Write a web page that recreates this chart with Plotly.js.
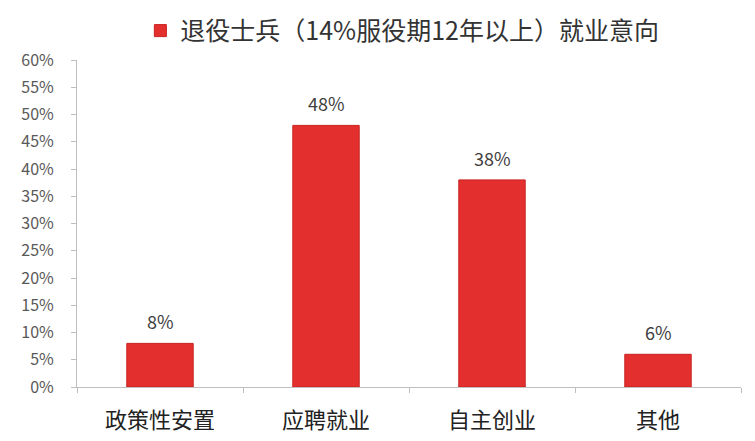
<!DOCTYPE html>
<html>
<head>
<meta charset="utf-8">
<script src="https://cdn.plot.ly/plotly-3.0.1.min.js"></script>
<style>
  html, body { margin: 0; padding: 0; background: #fff; }
  #chart { width: 755px; height: 441px; }
</style>
</head>
<body>
<div id="chart"></div>
<script>
var categories = ['政策性安置', '应聘就业', '自主创业', '其他'];
var shares = [0.08, 0.48, 0.38, 0.06];
var seriesName = '退役士兵（14%服役期12年以上）就业意向';
var yTicks = [0, 0.05, 0.10, 0.15, 0.20, 0.25, 0.30, 0.35, 0.40, 0.45, 0.50, 0.55, 0.60];

var FONT = '"Noto Sans CJK SC", "Noto Sans", sans-serif';
var pct = v => Math.round(v * 100) + '%';

var trace = {
  x: categories,
  y: shares,
  name: seriesName,
  type: 'bar',
  marker: { color: '#e3302f', line: { color: '#c92020', width: 1 } },
  hoverinfo: 'none'
};

// value labels sit a bit higher above the bars than plotly's own outside text
var labels = categories.map((c, i) => ({
  x: c, y: shares[i], text: pct(shares[i]),
  showarrow: false, yanchor: 'bottom', yshift: 7,
  font: { family: FONT, size: 18, color: '#404040' }
}));

var layout = {
  width: 755,
  height: 441,
  margin: { l: 77, r: 14, t: 60, b: 54 },
  paper_bgcolor: '#fff',
  plot_bgcolor: '#fff',
  bargap: 0.6,
  showlegend: true,
  legend: {
    orientation: 'h',
    x: 0.49, xanchor: 'center',
    yref: 'container',
    y: 0.93, yanchor: 'middle',
    font: { family: FONT, size: 25, color: '#333' },
    itemwidth: 30
  },
  annotations: labels,
  xaxis: {
    type: 'category',
    showline: true,
    linecolor: '#bfbfbf',
    linewidth: 1,
    ticks: 'outside',
    tickson: 'boundaries',
    ticklen: 5,
    tickcolor: '#bfbfbf',
    ticklabelstandoff: 14,
    tickfont: { family: FONT, size: 22, color: '#222' },
    showgrid: false,
    zeroline: false
  },
  yaxis: {
    range: [0, 0.6],
    tickvals: yTicks,
    ticktext: yTicks.map(pct),
    showline: true,
    linecolor: '#bfbfbf',
    linewidth: 1,
    ticks: 'outside',
    ticklen: 5,
    tickcolor: '#bfbfbf',
    ticklabelstandoff: 14,
    tickfont: { family: FONT, size: 16, color: '#595959' },
    showgrid: false,
    zeroline: false
  }
};

Plotly.newPlot('chart', [trace], layout, { displayModeBar: false, staticPlot: true });
</script>
</body>
</html>
